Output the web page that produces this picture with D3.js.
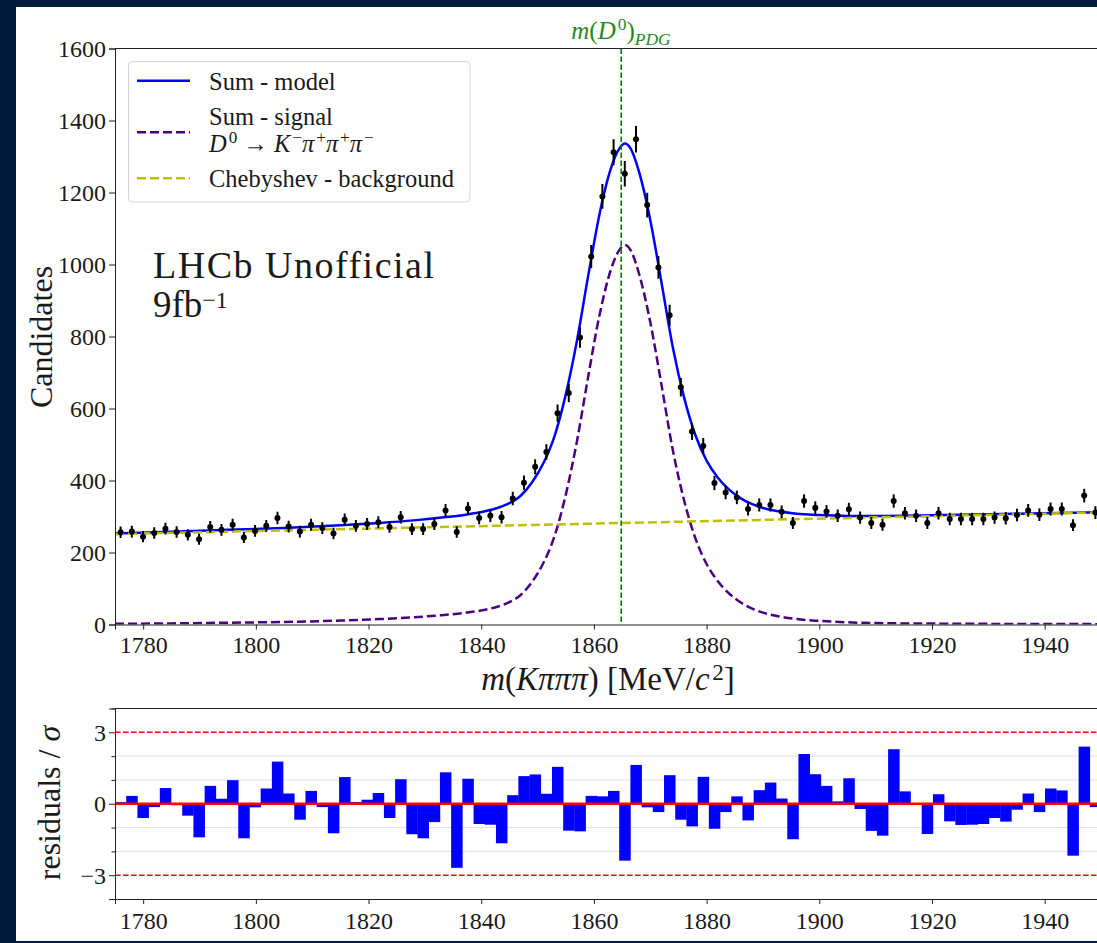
<!DOCTYPE html>
<html>
<head>
<meta charset="utf-8">
<script src="https://cdn.jsdelivr.net/npm/d3@7"></script>
<style>
  html, body { margin: 0; padding: 0; background: #041c3c; }
  svg { display: block; }
  text { font-family: "Liberation Serif", "DejaVu Serif", serif; fill: #1a1a1a; }
</style>
</head>
<body>
<svg id="chart" width="1097" height="943"></svg>
<script>
// Fit range and binning of the mass histogram
const massLo = 1775, massHi = 1950, nBins = 88;
const pdgMass = 1864.84;

// Candidates per bin
const counts = [
  256, 258, 244, 254, 266, 257, 249, 237, 271, 263, 277, 242, 260, 274, 296, 272, 258, 277, 268, 253,
  291, 274, 279, 284, 271, 298, 265, 265, 279, 317, 257, 322, 296, 302, 298, 350, 394, 438, 479, 587,
  643, 797, 1022, 1189, 1312, 1252, 1348, 1165, 992, 859, 659, 536, 496, 393, 367, 353, 321, 332, 332, 313,
  282, 343, 324, 314, 302, 320, 297, 282, 277, 343, 309, 302, 282, 309, 293, 293, 293, 293, 297, 295,
  304, 317, 305, 321, 321, 276, 358, 311
];

// Pulls (data - model) / sigma per bin
const pulls = [
  0.07, 0.33, -0.60, -0.14, 0.66, -0.06, -0.50, -1.41, 0.75, 0.21, 0.99, -1.45, -0.15, 0.64, 1.77, 0.43, -0.67, 0.54, -0.14, -1.24,
  1.12, 0.07, 0.17, 0.45, -0.60, 1.03, -1.28, -1.45, -0.77, 1.32, -2.69, 1.05, -0.85, -0.88, -1.66, 0.36, 1.16, 1.23, 0.42, 1.55,
  -1.13, -1.16, 0.33, 0.31, 0.54, -2.39, 1.63, -0.15, -0.35, 1.20, -0.67, -0.95, 1.13, -1.05, -0.35, 0.31, -0.70, 0.57, 0.89, 0.22,
  -1.49, 2.09, 1.24, 0.75, 0.10, 1.07, -0.22, -1.14, -1.34, 2.29, 0.52, -0.02, -1.27, 0.40, -0.74, -0.89, -0.88, -0.85, -0.60, -0.75,
  -0.25, 0.43, -0.35, 0.64, 0.56, -2.18, 2.40, -0.14
];

// Signal component of the fit, sampled along the mass axis
const curveMass = [
  1775, 1785, 1795, 1805, 1815, 1822, 1828, 1833, 1837, 1840,
  1843, 1845, 1847, 1849, 1851, 1853, 1855, 1857, 1859, 1861,
  1863, 1864.5, 1865.5, 1866.5, 1868, 1870, 1872, 1874, 1876, 1878,
  1880, 1882, 1884, 1886, 1888, 1890, 1893, 1896, 1900, 1905,
  1910, 1920, 1935, 1950
];
const signalCurve = [
  2, 3, 5, 7, 11, 15, 20, 26, 32, 39,
  50, 62, 82, 118, 170, 245, 360, 510, 690, 860,
  985, 1040, 1054, 1040, 975, 840, 665, 485, 345, 240,
  168, 120, 86, 62, 45, 33, 22, 15, 10, 6,
  4, 2.5, 1.5, 1
];

// Linear (first-order Chebyshev) background: values at the range ends
const bkgMass = [1775, 1950];
const bkgLevel = [251, 311.2];

const xTicks = [1780, 1800, 1820, 1840, 1860, 1880, 1900, 1920, 1940];
const yTicks = [0, 200, 400, 600, 800, 1000, 1200, 1400, 1600];
const pullTicks = [-3, 0, 3];
const pullMinor = [-4, -2, -1, 1, 2, 4];
const pullGrid = [-2, -1, 1, 2];

const W = 1097, H = 943;
const svg = d3.select("#chart");

// white figure area inside the dark frame
svg.append("rect").attr("x", 16).attr("y", 7).attr("width", W - 16).attr("height", 934).attr("fill", "#ffffff");

const plotL = 115, plotR = 1101;
const x = d3.scaleLinear().domain([massLo, massHi]).range([plotL, plotR]);
const y = d3.scaleLinear().domain([0, 1600]).range([624.5, 48.5]);
const yr = d3.scaleLinear().domain([-4, 4]).range([899, 708.5]);
const bkg = d3.scaleLinear().domain(bkgMass).range(bkgLevel);

const binW = (massHi - massLo) / nBins;
const centers = counts.map((_, i) => massLo + binW * (i + 0.5));

const defs = svg.append("defs");
defs.append("clipPath").attr("id", "clipMain").append("rect")
  .attr("x", plotL).attr("y", y(1600)).attr("width", plotR - plotL).attr("height", y(0) - y(1600));
defs.append("clipPath").attr("id", "clipPull").append("rect")
  .attr("x", plotL).attr("y", yr(4)).attr("width", plotR - plotL).attr("height", yr(-4) - yr(4));

// text helper: parts of [string, style] where style may contain "it", "sup", "sub"
function richText(parent, px, py, parts, size, anchor, fill, supRaise) {
  const t = parent.append("text").attr("x", px).attr("y", py)
    .attr("font-size", size).attr("text-anchor", anchor || "start");
  if (fill) t.style("fill", fill);
  const raise = supRaise || 0.37;
  let shift = 0, prevItalic = false;
  parts.forEach(p => {
    const str = p[0], st = p[1] || "";
    const ts = t.append("tspan").text(str);
    let target = 0;
    if (st.includes("sup")) target = -raise * size;
    if (st.includes("sub")) target = 0.22 * size;
    ts.attr("dy", target - shift);
    if (target !== 0 && prevItalic) ts.attr("dx", 0.08 * size);
    shift = target;
    if (target !== 0) ts.attr("font-size", size * 0.7);
    if (st.includes("it")) ts.attr("font-style", "italic");
    prevItalic = st.includes("it") && target === 0;
  });
  return t;
}

// ---------- main panel ----------
const main = svg.append("g");
const mainPlot = main.append("g").attr("clip-path", "url(#clipMain)");

const line = d3.line().x(d => x(d[0])).y(d => y(d[1])).curve(d3.curveMonotoneX);

// total model
mainPlot.append("path")
  .datum(curveMass.map((m, i) => [m, signalCurve[i] + bkg(m)]))
  .attr("d", line).attr("fill", "none")
  .attr("stroke", "#0000ff").attr("stroke-width", 2.5);

// signal
mainPlot.append("path")
  .datum(curveMass.map((m, i) => [m, signalCurve[i]]))
  .attr("d", line).attr("fill", "none")
  .attr("stroke", "#4b0082").attr("stroke-width", 2.5).attr("stroke-dasharray", "9,4");

// background
mainPlot.append("path")
  .datum(bkgMass.map((m, i) => [m, bkgLevel[i]]))
  .attr("d", line).attr("fill", "none")
  .attr("stroke", "#bfbf00").attr("stroke-width", 2.5).attr("stroke-dasharray", "9,4");

// PDG mass marker
mainPlot.append("line")
  .attr("x1", x(pdgMass)).attr("x2", x(pdgMass)).attr("y1", y(1600)).attr("y2", y(0))
  .attr("stroke", "#008000").attr("stroke-width", 1.6).attr("stroke-dasharray", "5.5,2.5");

// data with Poisson error bars
const pts = mainPlot.append("g");
pts.selectAll("line").data(counts).join("line")
  .attr("x1", (d, i) => x(centers[i])).attr("x2", (d, i) => x(centers[i]))
  .attr("y1", d => y(d - Math.sqrt(d))).attr("y2", d => y(d + Math.sqrt(d)))
  .attr("stroke", "#000").attr("stroke-width", 2);
pts.selectAll("circle").data(counts).join("circle")
  .attr("cx", (d, i) => x(centers[i])).attr("cy", d => y(d)).attr("r", 3).attr("fill", "#000");

// axes
const xAxis = main.append("g").attr("transform", `translate(0,${y(0)})`)
  .call(d3.axisBottom(x).tickValues(xTicks).tickFormat(d3.format("d")).tickSize(5).tickPadding(6));
const yAxis = main.append("g").attr("transform", `translate(${plotL},0)`)
  .call(d3.axisLeft(y).tickValues(yTicks).tickFormat(d3.format("d")).tickSize(6).tickPadding(3));
[xAxis, yAxis].forEach(a => {
  a.selectAll("text").attr("font-size", 24).attr("font-family", null).style("fill", "#1a1a1a");
  a.select(".domain").attr("stroke", "#222");
  a.selectAll(".tick line").attr("stroke", "#222");
});
yAxis.selectAll("text").attr("dy", "0.34em");
// top frame
main.append("line").attr("x1", plotL).attr("x2", plotR).attr("y1", y(1600)).attr("y2", y(1600))
  .attr("stroke", "#222").attr("stroke-width", 1);

// labels
richText(main, 621, 39, [["m", "it"], ["("], ["D", "it"], ["0", "sup"], [")"], ["PDG", "it sub"]], 25, "middle", "#1f8a1f");
richText(main, 608, 690, [["m", "it"], ["("], ["Kπππ", "it"], [") [MeV/"], ["c", "it"], ["2", "sup"], ["]"]], 33, "middle", null, 0.3);
main.append("text").attr("transform", "translate(52,337) rotate(-90)")
  .attr("text-anchor", "middle").attr("font-size", 32).text("Candidates");

// experiment tag, two lines in one text block
const tag = main.append("text").attr("x", 153).attr("y", 278).attr("font-size", 38);
tag.append("tspan").attr("x", 153).attr("textLength", 281).attr("lengthAdjust", "spacing").text("LHCb Unofficial");
tag.append("tspan").attr("x", 153).attr("dy", 39).attr("font-size", 37).text("9fb");
tag.append("tspan").attr("dy", -9).attr("font-size", 24).text("−1");

// legend
const leg = main.append("g");
leg.append("rect").attr("x", 128.5).attr("y", 61.5).attr("width", 341.5).attr("height", 140.5)
  .attr("rx", 4).attr("fill", "#fff").attr("fill-opacity", 0.85).attr("stroke", "#d4d4d4");
const legendItems = [
  { y: 80.7, color: "#0000ff", dash: null },
  { y: 132.3, color: "#4b0082", dash: "9,4" },
  { y: 178.3, color: "#bfbf00", dash: "9,4" }
];
legendItems.forEach(it => {
  const l = leg.append("line").attr("x1", 137).attr("x2", 190).attr("y1", it.y).attr("y2", it.y)
    .attr("stroke", it.color).attr("stroke-width", 2.5);
  if (it.dash) l.attr("stroke-dasharray", it.dash);
});
richText(leg, 209, 90, [["Sum - model"]], 24.5);
richText(leg, 209, 124.5, [["Sum - signal"]], 24.5);
richText(leg, 209, 152, [["D", "it"], ["0", "sup"], [" → "], ["K", "it"], ["−", "sup"], ["π", "it"], ["+", "sup"],
  ["π", "it"], ["+", "sup"], ["π", "it"], ["−", "sup"]], 24.5);
richText(leg, 209, 187, [["Chebyshev - background"]], 24.5);

// ---------- pull panel ----------
const pull = svg.append("g");
const pullPlot = pull.append("g").attr("clip-path", "url(#clipPull)");

pullPlot.selectAll("line.grid").data(pullGrid).join("line").attr("class", "grid")
  .attr("x1", plotL).attr("x2", plotR).attr("y1", d => yr(d)).attr("y2", d => yr(d))
  .attr("stroke", "#e2e2e2").attr("stroke-width", 1);

pullPlot.selectAll("rect").data(pulls).join("rect")
  .attr("x", (d, i) => x(massLo + binW * i))
  .attr("width", x(massLo + binW) - x(massLo) + 0.3)
  .attr("y", d => Math.min(yr(0), yr(d)))
  .attr("height", d => Math.abs(yr(d) - yr(0)))
  .attr("fill", "#0000ff");

pullPlot.append("line").attr("x1", plotL).attr("x2", plotR).attr("y1", yr(0)).attr("y2", yr(0))
  .attr("stroke", "#ff0000").attr("stroke-width", 2.5);
[-3, 3].forEach(v => {
  pullPlot.append("line").attr("x1", plotL).attr("x2", plotR).attr("y1", yr(v)).attr("y2", yr(v))
    .attr("stroke", "#ff0000").attr("stroke-width", 1.6).attr("stroke-dasharray", "5.5,2.5");
});

const pxAxis = pull.append("g").attr("transform", `translate(0,${yr(-4)})`)
  .call(d3.axisBottom(x).tickValues(xTicks).tickFormat(d3.format("d")).tickSize(5).tickPadding(8));
const pyAxis = pull.append("g").attr("transform", `translate(${plotL},0)`)
  .call(d3.axisLeft(yr).tickValues(pullTicks).tickFormat(d => d < 0 ? "−" + Math.abs(d) : d).tickSize(6).tickPadding(3));
pull.append("g").attr("transform", `translate(${plotL},0)`)
  .call(d3.axisLeft(yr).tickValues(pullMinor).tickFormat("").tickSize(3.5))
  .call(g => g.select(".domain").remove())
  .selectAll(".tick line").attr("stroke", "#222");
[pxAxis, pyAxis].forEach(a => {
  a.selectAll("text").attr("font-size", 24).attr("font-family", null).style("fill", "#1a1a1a");
  a.select(".domain").attr("stroke", "#222");
  a.selectAll(".tick line").attr("stroke", "#222");
});
pyAxis.selectAll("text").attr("dy", "0.34em");
pull.append("line").attr("x1", plotL).attr("x2", plotR).attr("y1", yr(4)).attr("y2", yr(4))
  .attr("stroke", "#222").attr("stroke-width", 1);

const pl = pull.append("text").attr("transform", "translate(60,803) rotate(-90)")
  .attr("text-anchor", "middle").attr("font-size", 32);
pl.append("tspan").text("residuals / ");
pl.append("tspan").attr("font-style", "italic").text("σ");
</script>
</body>
</html>
